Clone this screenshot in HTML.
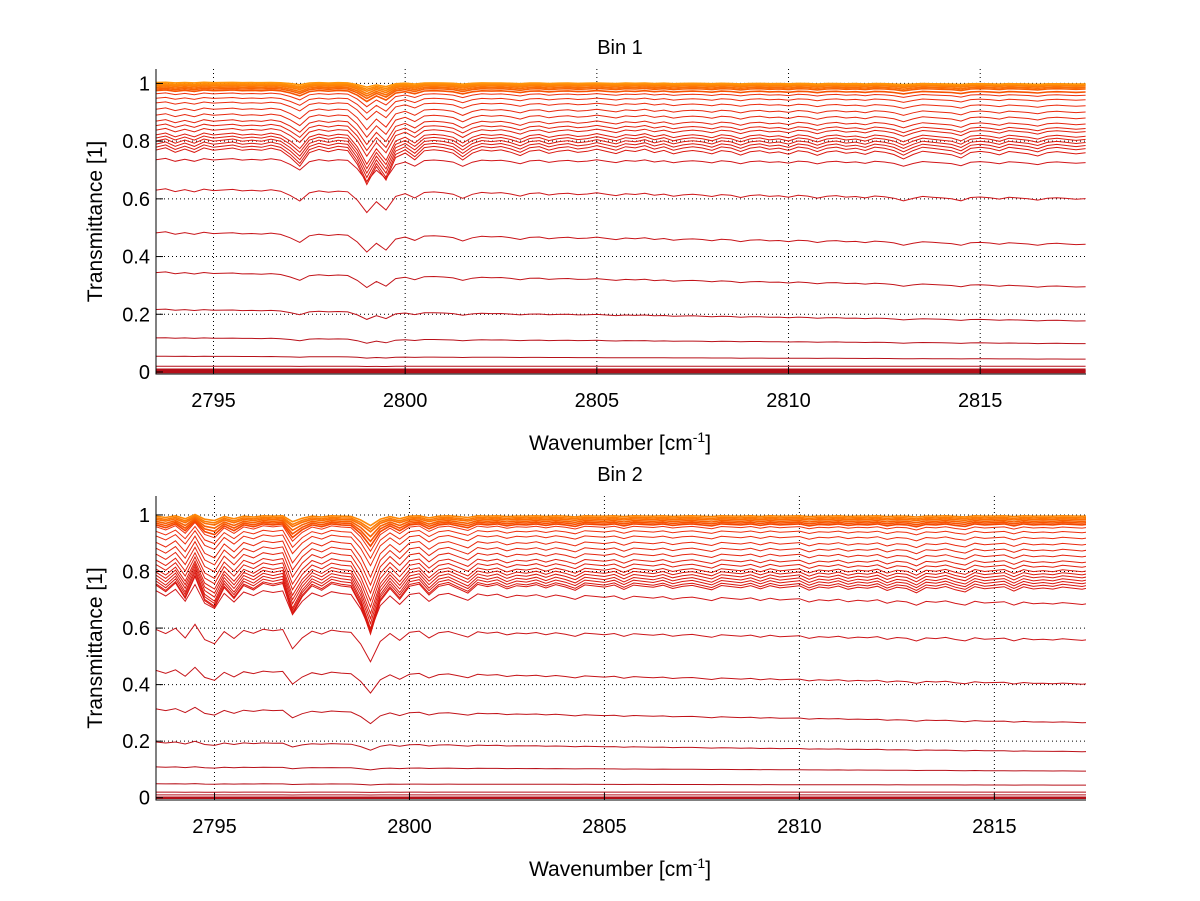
<!DOCTYPE html>
<html><head><meta charset="utf-8"><style>
body{margin:0;background:#fff}
svg{display:block;font-family:"Liberation Sans",sans-serif}
</style></head><body>
<svg id="fig" width="1200" height="901" viewBox="0 0 1200 901"></svg>
<script>
// ---------- data ----------
const absorbBin1 = [0.02,0.01,0.03,0.015,0.03,0.01,0.02,0.015,0.01,0.02,
0.015,0.02,0.01,0.02,0.05,0.09,0.03,0.015,0.025,0.015,
0.02,0.08,0.17,0.09,0.15,0.05,0.03,0.06,0.02,0.015,
0.02,0.03,0.06,0.03,0.015,0.02,0.015,0.025,0.04,0.02,
0.015,0.03,0.02,0.015,0.025,0.02,0.01,0.02,0.03,0.015,
0.02,0.01,0.025,0.015,0.03,0.02,0.015,0.02,0.03,0.015,
0.02,0.035,0.02,0.015,0.025,0.02,0.03,0.015,0.02,0.035,
0.02,0.015,0.025,0.02,0.03,0.015,0.02,0.03,0.05,0.03,
0.015,0.02,0.025,0.03,0.045,0.02,0.015,0.02,0.03,0.015,
0.02,0.025,0.035,0.02,0.015,0.02,0.025,0.02];
const absorbBin2 = [0.03,0.06,0.02,0.09,-0.01,0.1,0.13,0.04,0.09,0.03,
0.05,0.02,0.03,0.02,0.16,0.08,0.03,0.05,0.02,0.03,
0.035,0.12,0.25,0.1,0.04,0.09,0.03,0.02,0.07,0.03,
0.02,0.04,0.06,0.02,0.03,0.02,0.04,0.025,0.03,0.02,
0.035,0.02,0.03,0.045,0.02,0.025,0.03,0.02,0.04,0.02,
0.025,0.03,0.02,0.035,0.025,0.02,0.03,0.04,0.02,0.025,
0.03,0.02,0.035,0.02,0.03,0.025,0.02,0.04,0.025,0.03,
0.02,0.035,0.025,0.03,0.02,0.04,0.025,0.03,0.05,0.025,
0.03,0.02,0.035,0.045,0.02,0.03,0.025,0.02,0.04,0.02,
0.03,0.025,0.03,0.02,0.025,0.03,0.02];
const waveStart = 2793.5;
const waveStep = 0.25;
// per-curve transmittance level at left and right edge, and dip depth factor
const levelLeft1  = [1.005,1.0,0.998,0.995,0.99,0.985,0.98,0.97,0.955,0.94,0.92,0.90,0.88,0.865,0.85,0.835,0.825,0.815,0.805,0.795,0.785,0.745,0.64,0.49,0.35,0.22,0.12,0.055,0.02,0.008,0.003,0.0];
const levelRight1 = [1.0,1.0,0.998,0.995,0.99,0.985,0.975,0.965,0.95,0.93,0.91,0.89,0.87,0.855,0.845,0.83,0.82,0.81,0.80,0.79,0.775,0.735,0.61,0.45,0.30,0.18,0.10,0.045,0.02,0.008,0.003,0.0];
const depth1 = [0.1,0.12,0.15,0.18,0.2,0.22,0.25,0.3,0.35,0.4,0.5,0.55,0.6,0.65,0.7,0.8,0.85,0.9,0.95,1.0,1.0,0.65,0.75,0.8,0.8,0.8,0.8,0.5,0.3,0.2,0.1,0.0];
const levelLeft2  = [1.0,0.995,0.99,0.985,0.98,0.975,0.97,0.955,0.94,0.92,0.90,0.88,0.86,0.845,0.83,0.82,0.81,0.80,0.79,0.78,0.775,0.75,0.61,0.46,0.32,0.20,0.11,0.05,0.02,0.01,0.0];
const levelRight2 = [1.0,0.995,0.99,0.985,0.98,0.975,0.965,0.95,0.93,0.91,0.89,0.87,0.85,0.835,0.82,0.81,0.80,0.79,0.78,0.77,0.76,0.70,0.57,0.41,0.27,0.165,0.095,0.045,0.02,0.01,0.0];
const depth2 = [0.15,0.18,0.2,0.25,0.3,0.35,0.4,0.45,0.5,0.6,0.65,0.7,0.75,0.8,0.85,0.9,0.95,1.0,1.0,1.0,1.0,0.8,0.8,0.7,0.6,0.5,0.3,0.3,0.2,0.1,0.0];
const xTicks = [2795,2800,2805,2810,2815];
const yTicks = [0,0.2,0.4,0.6,0.8,1];
const yTickLabels = ["0","0.2","0.4","0.6","0.8","1"];

const NS="http://www.w3.org/2000/svg";
const svg=document.getElementById('fig');
function mk(tag,attrs,parent){const e=document.createElementNS(NS,tag);for(const k in attrs)e.setAttribute(k,attrs[k]);(parent||svg).appendChild(e);return e;}

function colorFor(level){
  if(level>=0.975){const t=Math.min(1,(level-0.975)/0.03);return `rgb(${Math.round(245+10*t)},${Math.round(70+80*t)},${Math.round(10*t)})`;}
  if(level>=0.76){const t=(level-0.76)/0.215;return `rgb(${Math.round(215+25*t)},${Math.round(20+30*t)},15)`;}
  return `rgb(${Math.round(180+level*40)},${Math.round(15+level*10)},25)`;
}

function panel(cfg){
  const g=mk('g',{});
  
  
  const X=v=>cfg.L+(v-cfg.xmin)/(cfg.xmax-cfg.xmin)*(cfg.R-cfg.L);
  const Y=v=>cfg.B-(v-cfg.ymin)/(cfg.ymax-cfg.ymin)*(cfg.B-cfg.T);
  const cid='clip'+cfg.name;
  const cp=mk('clipPath',{id:cid},g);
  mk('rect',{x:cfg.L,y:cfg.T-6,width:cfg.R-cfg.L,height:cfg.B-cfg.T+6},cp);
  xTicks.forEach(t=>{const l=mk('line',{x1:X(t),x2:X(t),y1:cfg.T,y2:cfg.B,stroke:'#000','stroke-width':1,'stroke-dasharray':'1,3'},g);
    });
  yTicks.forEach(t=>{const l=mk('line',{x1:cfg.L,x2:cfg.R,y1:Y(t),y2:Y(t),stroke:'#000','stroke-width':1,'stroke-dasharray':'1,3'},g);
    });
  const lines=mk('g',{'clip-path':`url(#${cid})`},g);
  const n=cfg.absorb.length;
  for(let c=cfg.lv.length-1;c>=0;c--){
    let pts=[];
    for(let i=0;i<n;i++){
      const x=waveStart+waveStep*i;
      const f=(x-cfg.xmin)/(cfg.xmax-cfg.xmin);
      const lev=cfg.lv[c]+(cfg.rv[c]-cfg.lv[c])*f;
      const v=lev*(1-cfg.dp[c]*cfg.absorb[i]);
      pts.push(X(x).toFixed(1)+','+Y(v).toFixed(1));
    }
    const w=cfg.lv[c]<0.01?2.5:(cfg.lv[c]>=0.975?1.6:1);
    const p=mk('polyline',{points:pts.join(' '),fill:'none',stroke:colorFor(cfg.lv[c]),'stroke-width':w},lines);
    
    
  }
  const ax=mk('path',{d:`M${cfg.L},${cfg.T} V${cfg.B} H${cfg.R}`,stroke:'#000',fill:'none','stroke-width':1},g);
  
  xTicks.forEach(t=>{
    mk('line',{x1:X(t),x2:X(t),y1:cfg.B,y2:cfg.B-7,stroke:'#000'},g);
    const tx=mk('text',{x:X(t),y:cfg.B+33,'font-size':20,'text-anchor':'middle'},g);
    tx.textContent=t;
    
  });
  yTicks.forEach((t,i)=>{
    mk('line',{x1:cfg.L,x2:cfg.L+7,y1:Y(t),y2:Y(t),stroke:'#000'},g);
    const tx=mk('text',{x:cfg.L-6,y:Y(t)+7,'font-size':20,'text-anchor':'end'},g);
    tx.textContent=yTickLabels[i];
    
  });
  const ti=mk('text',{x:620,y:cfg.T-15,'font-size':20,'text-anchor':'middle'},g);
  ti.textContent=cfg.title;
  
  const xl=mk('text',{x:620,y:cfg.B+76,'font-size':21,'text-anchor':'middle'},g);
  xl.innerHTML='Wavenumber [cm<tspan dy="-8" font-size="14">-1</tspan><tspan dy="8">]</tspan>';
  
  const cy=(cfg.T+cfg.B)/2;
  const yl=mk('text',{x:0,y:0,'font-size':21,'text-anchor':'middle',transform:`translate(102,${cy}) rotate(-90)`},g);
  yl.textContent='Transmittance [1]';
  
}

panel({name:'bin1-panel',title:'Bin 1',L:156,R:1086,T:69,B:374,xmin:2793.5,xmax:2817.76,ymin:-0.007,ymax:1.05,
  absorb:absorbBin1,lv:levelLeft1,rv:levelRight1,dp:depth1});
panel({name:'bin2-panel',title:'Bin 2',L:156,R:1086,T:496,B:800,xmin:2793.5,xmax:2817.35,ymin:-0.008,ymax:1.067,
  absorb:absorbBin2,lv:levelLeft2,rv:levelRight2,dp:depth2});
</script>
</body></html>
